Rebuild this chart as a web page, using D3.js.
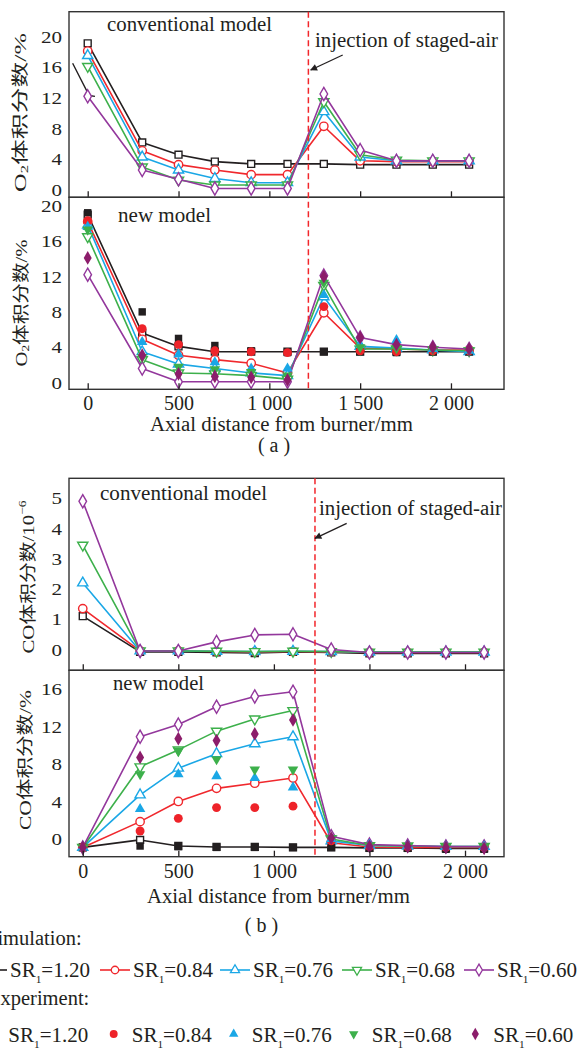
<!DOCTYPE html>
<html>
<head>
<meta charset="utf-8">
<script src="https://cdn.jsdelivr.net/npm/d3@7"></script>
<style>
  body { margin: 0; background: #fff; }
  svg { display: block; }
  svg text { font-family: "Liberation Serif", "Times New Roman", "Noto Sans CJK SC", serif; }
</style>
</head>
<body>
<div id="chart"></div>
<script>
// ---- data ----
const distance = [0, 300, 500, 700, 900, 1100, 1300, 1500, 1700, 1900, 2100];
const srLabels = ["1.20", "0.84", "0.76", "0.68", "0.60"];
const stagedAirX = 1215;

// (a) O2, conventional model, simulation
const o2ConvSR120 = [19.1, 6.2, 4.6, 3.7, 3.4, 3.4, 3.4, 3.3, 3.3, 3.3, 3.3];
const o2ConvSR084 = [18.1, 5.1, 3.3, 2.6, 2.0, 2.0, 8.3, 3.8, 3.7, 3.7, 3.7];
const o2ConvSR076 = [17.5, 4.3, 2.6, 1.5, 0.95, 0.95, 10.2, 4.3, 3.8, 3.8, 3.8];
const o2ConvSR068 = [16.1, 3.0, 1.3, 0.65, 0.65, 0.65, 11.5, 4.6, 3.9, 3.8, 3.8];
const o2ConvSR060 = [12.2, 2.6, 1.4, 0.2, 0.2, 0.2, 12.5, 5.2, 3.8, 3.8, 3.8];
// stray stroke at the top-left of panel (a)
const strayX = [-83, 8, 40];
const strayY = [16.5, 12.3, 12.2];

// (a) O2, new model, simulation
const o2NewSR120 = [19.0, 5.6, 4.1, 3.5, 3.5, 3.5, 3.5, 3.5, 3.5, 3.5, 3.5];
const o2NewSR084 = [18.2, 4.9, 3.1, 2.6, 2.2, 1.1, 7.9, 3.9, 3.8, 3.7, 3.7];
const o2NewSR076 = [17.8, 3.5, 2.1, 1.6, 1.1, 0.8, 9.7, 4.1, 3.9, 3.7, 3.5];
const o2NewSR068 = [16.5, 2.6, 1.1, 1.0, 0.8, 0.4, 11.0, 3.8, 3.8, 3.7, 3.6];
const o2NewSR060 = [12.2, 1.6, 0.1, 0.1, 0.1, 0.1, 12.1, 5.1, 4.3, 4.0, 3.8];
// (a) O2, experiment
const o2ExpSR120 = [19.2, 8.0, 5.0, 4.2, 3.6, 3.4, 3.5, 3.5, 3.4, 3.5, 3.5];
const o2ExpSR084 = [18.3, 6.1, 4.3, 3.6, 3.5, 3.4, 8.6, 3.6, 3.5, 3.6, 3.6];
const o2ExpSR076 = [17.6, 4.6, 3.2, 2.3, 1.6, 1.6, 9.9, 4.3, 4.8, 3.8, 3.6];
const o2ExpSR068 = [17.3, 2.9, 1.8, 1.5, 1.2, 0.8, 11.3, 4.0, 3.9, 3.8, 3.7];
const o2ExpSR060 = [14.1, 3.1, 1.0, 0.7, 0.6, 0.3, 12.0, 5.1, 4.3, 4.0, 3.8];

// (b) CO, conventional model, simulation (10^-6)
const coConvSR120 = [1.1, -0.08, -0.08, -0.1, -0.12, -0.08, -0.1, -0.13, -0.13, -0.13, -0.13];
const coConvSR084 = [1.35, -0.05, -0.05, -0.07, -0.08, -0.07, -0.08, -0.1, -0.1, -0.1, -0.1];
const coConvSR076 = [2.2, -0.05, -0.05, -0.06, -0.07, -0.06, -0.07, -0.09, -0.09, -0.09, -0.09];
const coConvSR068 = [3.45, -0.05, -0.05, -0.06, -0.07, -0.06, -0.07, -0.09, -0.09, -0.09, -0.09];
const coConvSR060 = [4.9, -0.05, -0.05, 0.25, 0.48, 0.5, 0.0, -0.1, -0.1, -0.1, -0.1];

// (b) CO, new model, simulation (%)
const coNewSR120 = [-0.9, -0.1, -0.75, -0.85, -0.85, -0.9, -0.9, -0.95, -0.95, -1.0, -1.0];
const coNewSR084 = [-0.9, 1.85, 4.0, 5.4, 5.95, 6.5, -0.4, -0.85, -0.9, -0.9, -0.9];
const coNewSR076 = [-0.9, 4.7, 7.55, 9.1, 10.15, 10.9, -0.2, -0.7, -0.75, -0.8, -0.8];
const coNewSR068 = [-0.9, 7.7, 9.5, 11.5, 12.8, 13.7, 0.0, -0.7, -0.75, -0.8, -0.8];
const coNewSR060 = [-0.9, 10.9, 12.2, 14.1, 15.2, 15.7, 0.3, -0.6, -0.7, -0.8, -0.8];
// (b) CO, experiment
const coExpSR120 = [-0.9, -0.75, -0.8, -0.9, -0.9, -0.9, -0.9, -1.0, -1.0, -1.1, -1.1];
const coExpSR084 = [-0.9, 0.85, 2.2, 3.35, 3.35, 3.5, -0.2, -0.8, -0.85, -0.9, -0.9];
const coExpSR076 = [-0.9, 3.2, 6.9, 6.7, 6.5, 5.5, 0.0, -0.6, -0.7, -0.8, -0.8];
const coExpSR068 = [-0.9, 6.9, 9.4, 8.5, 7.4, 7.4, 0.1, -0.7, -0.75, -0.8, -0.8];
const coExpSR060 = [-0.9, 8.7, 10.7, 10.5, 11.2, 12.7, 0.1, -0.8, -0.8, -0.9, -1.0];

const xTicks = [0, 500, 1000, 1500, 2000];

// ---- style ----
const INK = "#231f20";
const simColors = ["#231f20", "#f0282d", "#1aa7e6", "#3db04b", "#93379c"];
const expColors = ["#231f20", "#ee2329", "#1aa7e6", "#3db04b", "#8c1d6b"];
const symTypes = [d3.symbolSquare, d3.symbolCircle, d3.symbolTriangle, d3.symbolTriangle, d3.symbolDiamond];
const symRotate = [0, 0, 0, 180, 0];
const simSizes = [48, 55, 45, 45, 50];
const expSizes = [55, 62, 48, 48, 55];

const W = 581, H = 1048;
const svg = d3.select("#chart").append("svg")
    .attr("width", W).attr("height", H)
    .attr("viewBox", `0 0 ${W} ${H}`);

svg.append("defs").append("marker")
    .attr("id", "arrow")
    .attr("viewBox", "0 0 10 10")
    .attr("refX", 9).attr("refY", 5)
    .attr("markerWidth", 9).attr("markerHeight", 7)
    .attr("markerUnits", "userSpaceOnUse")
    .attr("orient", "auto")
    .append("path").attr("d", "M0,0 L10,5 L0,10 z").attr("fill", INK);

function fmtX(v) {
    return v >= 1000 ? d3.format(",")(v).replace(",", " ") : String(v);
}

function addText(x, y, str, size, len, anchor) {
    const t = svg.append("text")
        .attr("x", x).attr("y", y)
        .attr("font-size", size)
        .attr("fill", INK)
        .attr("text-anchor", anchor || "start")
        .text(str);
    if (len) t.attr("textLength", len).attr("lengthAdjust", "spacingAndGlyphs");
    return t;
}

// один субграфик (панель)
function drawPanel(p) {
    const x = d3.scaleLinear().domain(p.xDomain).range([p.left, p.right]);
    const y = d3.scaleLinear().domain(p.yDomain).range([p.bottom, p.top]);
    const g = svg.append("g");

    const line = d3.line().x(d => x(d[0])).y(d => y(d[1]));

    if (p.stray) {
        g.append("path")
            .datum(p.stray[0].map((v, k) => [v, p.stray[1][k]]))
            .attr("d", line)
            .attr("fill", "none").attr("stroke", INK).attr("stroke-width", 1.4);
    }

    // simulation: lines + open markers
    p.sim.forEach((vals, i) => {
        const pts = distance.map((d, k) => [d, vals[k]]);
        g.append("path").datum(pts)
            .attr("d", line)
            .attr("fill", "none")
            .attr("stroke", simColors[i])
            .attr("stroke-width", 1.6)
            .attr("stroke-linejoin", "round");
        g.selectAll(null).data(pts).enter().append("path")
            .attr("transform", d => `translate(${x(d[0])},${y(d[1])}) rotate(${symRotate[i]})`)
            .attr("d", d3.symbol(symTypes[i], simSizes[i]))
            .attr("fill", "#fff")
            .attr("stroke", simColors[i])
            .attr("stroke-width", 1.4);
    });

    // experiment: filled markers
    if (p.exp) {
        p.exp.forEach((vals, i) => {
            const pts = distance.map((d, k) => [d, vals[k]]);
            g.selectAll(null).data(pts).enter().append("path")
                .attr("transform", d => `translate(${x(d[0])},${y(d[1])}) rotate(${symRotate[i]})`)
                .attr("d", d3.symbol(symTypes[i], expSizes[i]))
                .attr("fill", expColors[i]);
        });
    }

    // y tick labels
    const ySx = 1.2;
    g.append("g")
        .attr("transform", `translate(${p.left},0)`)
        .call(d3.axisLeft(y).tickValues(p.yTicks).tickSize(0).tickPadding(7 / ySx)
            .tickFormat(d3.format("d")))
        .call(s => s.select(".domain").remove())
        .call(s => s.selectAll("text")
            .attr("font-size", 17.5)
            .attr("fill", INK)
            .attr("transform", `scale(${ySx},1)`));

    // x ticks (inside), labels only on the lower panel
    g.append("g")
        .attr("transform", `translate(0,${p.bottom})`)
        .call(d3.axisBottom(x).tickValues(xTicks)
            .tickSizeInner(-6).tickSizeOuter(0).tickPadding(7)
            .tickFormat(p.showX ? fmtX : () => ""))
        .call(s => s.select(".domain").remove())
        .call(s => s.selectAll("line").attr("stroke", INK).attr("stroke-width", 1.3))
        .call(s => s.selectAll("text")
            .attr("font-size", 20)
            .attr("fill", INK));

    // frame
    g.append("rect")
        .attr("x", p.left).attr("y", p.top)
        .attr("width", p.right - p.left).attr("height", p.bottom - p.top)
        .attr("fill", "none").attr("stroke", "#333").attr("stroke-width", 1.4);

    return x;
}

function yLabel(cx, cy, len, build) {
    const t = svg.append("text")
        .attr("transform", `translate(${cx},${cy}) rotate(-90)`)
        .attr("text-anchor", "middle")
        .attr("dominant-baseline", "central")
        .attr("font-size", 17)
        .attr("fill", INK)
        .attr("textLength", len)
        .attr("lengthAdjust", "spacingAndGlyphs");
    build(t);
}

function stagedAir(x, top, bottom, tx, ty, ax0, ay0, ax1, ay1) {
    svg.append("line")
        .attr("x1", x(stagedAirX)).attr("x2", x(stagedAirX))
        .attr("y1", top).attr("y2", bottom)
        .attr("stroke", "#f2262b").attr("stroke-width", 1.5)
        .attr("stroke-dasharray", "6,3.5");
    addText(tx, ty, "injection of staged-air", 20, 183);
    svg.append("line")
        .attr("x1", ax0).attr("y1", ay0).attr("x2", ax1).attr("y2", ay1)
        .attr("stroke", INK).attr("stroke-width", 1.3)
        .attr("marker-end", "url(#arrow)");
}

// ---- (a) O2 ----
const xA = drawPanel({
    left: 69, right: 504, top: 11.7, bottom: 197.3,
    xDomain: [-103, 2292], yDomain: [-0.95, 23.22], yTicks: [0, 4, 8, 12, 16, 20],
    sim: [o2ConvSR120, o2ConvSR084, o2ConvSR076, o2ConvSR068, o2ConvSR060],
    stray: [strayX, strayY], showX: false
});
drawPanel({
    left: 69, right: 504, top: 197.3, bottom: 389.3,
    xDomain: [-103, 2292], yDomain: [-0.75, 20.95], yTicks: [0, 4, 8, 12, 16, 20],
    sim: [o2NewSR120, o2NewSR084, o2NewSR076, o2NewSR068, o2NewSR060],
    exp: [o2ExpSR120, o2ExpSR084, o2ExpSR076, o2ExpSR068, o2ExpSR060],
    showX: true
});
addText(107, 31, "conventional model", 20, 165);
addText(118, 221.7, "new model", 20, 93);
stagedAir(xA, 11.7, 389.3, 315, 47, 342.7, 55, 310.7, 70);

const o2Label = t => {
    t.append("tspan").text("O");
    t.append("tspan").attr("font-size", 11).attr("baseline-shift", "-35%").text("2");
    t.append("tspan").text("体积分数/%");
};
yLabel(19.5, 112.5, 159, o2Label);
yLabel(21, 303, 127, o2Label);
addText(281.4, 431, "Axial distance from burner/mm", 20, 263, "middle");
addText(274, 451.7, "( a )", 20, null, "middle");

// ---- (b) CO ----
const xB = drawPanel({
    left: 69, right: 504, top: 478.3, bottom: 670.3,
    xDomain: [-72, 2204], yDomain: [-0.69, 5.66], yTicks: [0, 1, 2, 3, 4, 5],
    sim: [coConvSR120, coConvSR084, coConvSR076, coConvSR068, coConvSR060],
    showX: false
});
drawPanel({
    left: 69, right: 504, top: 670.3, bottom: 856.7,
    xDomain: [-72, 2204], yDomain: [-1.89, 17.99], yTicks: [0, 4, 8, 12, 16],
    sim: [coNewSR120, coNewSR084, coNewSR076, coNewSR068, coNewSR060],
    exp: [coExpSR120, coExpSR084, coExpSR076, coExpSR068, coExpSR060],
    showX: true
});
addText(100, 500, "conventional model", 20, 167);
addText(113, 690, "new model", 20, 91);
stagedAir(xB, 478.3, 856.7, 319, 515, 346.7, 523.3, 315, 538.3);

yLabel(28, 577, 153, t => {
    t.append("tspan").text("CO体积分数/10");
    t.append("tspan").attr("font-size", 11).attr("baseline-shift", "55%").text("−6");
});
yLabel(25, 760, 140, t => {
    t.append("tspan").text("CO体积分数/%");
});
addText(278.4, 903, "Axial distance from burner/mm", 20, 263, "middle");
addText(261.5, 931.7, "( b )", 20, null, "middle");

// ---- legend ----
function srText(x, y, label) {
    const t = addText(x, y, "", 20.5, 80);
    t.append("tspan").text("SR");
    t.append("tspan").attr("font-size", 11).attr("dy", 6).text("1");
    t.append("tspan").attr("dy", -6).text("=" + label);
}

addText(81.7, 945, "Simulation:", 20.5, null, "end");
const simTextX = [10, 133, 253, 375, 497];
srLabels.forEach((lab, i) => {
    const tx = simTextX[i];
    svg.append("line")
        .attr("x1", tx - 33).attr("x2", tx - 3).attr("y1", 970).attr("y2", 970)
        .attr("stroke", simColors[i]).attr("stroke-width", 1.6);
    svg.append("path")
        .attr("transform", `translate(${tx - 18},970) rotate(${symRotate[i]})`)
        .attr("d", d3.symbol(symTypes[i], simSizes[i] * 0.8))
        .attr("fill", "#fff").attr("stroke", simColors[i]).attr("stroke-width", 1.3);
    srText(tx, 977.3, lab);
});

addText(89.3, 1005, "Experiment:", 20.5, null, "end");
const expTextX = [8.3, 131.7, 251.7, 371.7, 493.3];
srLabels.forEach((lab, i) => {
    const tx = expTextX[i];
    svg.append("path")
        .attr("transform", `translate(${tx - 18},1034) rotate(${symRotate[i]})`)
        .attr("d", d3.symbol(symTypes[i], expSizes[i] * 0.8))
        .attr("fill", expColors[i]);
    srText(tx, 1041.7, lab);
});
</script>
</body>
</html>
